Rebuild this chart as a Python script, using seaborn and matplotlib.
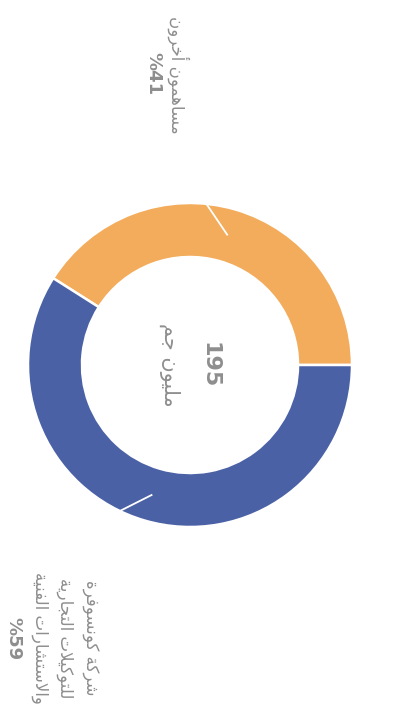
import matplotlib
matplotlib.use('Agg')
import matplotlib.pyplot as plt
import numpy as np
import seaborn as sns

# ─── Data ──────────────────────────────────────────────────────────────────────
shares = [41, 59]
segment_names = ["مساهمون أخرون", "شركة كونسوفرة\nللتوكيلات التجارية\nوالاستشارات الفنية"]
share_labels = ["%41", "%59"]
total_value = "195"
total_unit = "مليون جم"
seg_colors = ["#F2AC5B", "#4B61A6"]
text_color = "#8E8E8E"

# ─── Minimal Arabic shaping (no arabic_reshaper available) ─────────────────────
# letter: (isolated, final, initial, medial); None -> letter does not join forward
FORMS = {
    'ا': ('\uFE8D', '\uFE8E', None, None),
    'أ': ('\uFE83', '\uFE84', None, None),
    'ة': ('\uFE93', '\uFE94', None, None),
    'ر': ('\uFEAD', '\uFEAE', None, None),
    'و': ('\uFEED', '\uFEEE', None, None),
    'ت': ('\uFE95', '\uFE96', '\uFE97', '\uFE98'),
    'ج': ('\uFE9D', '\uFE9E', '\uFE9F', '\uFEA0'),
    'خ': ('\uFEA5', '\uFEA6', '\uFEA7', '\uFEA8'),
    'س': ('\uFEB1', '\uFEB2', '\uFEB3', '\uFEB4'),
    'ش': ('\uFEB5', '\uFEB6', '\uFEB7', '\uFEB8'),
    'ف': ('\uFED1', '\uFED2', '\uFED3', '\uFED4'),
    'ك': ('\uFED9', '\uFEDA', '\uFEDB', '\uFEDC'),
    'ل': ('\uFEDD', '\uFEDE', '\uFEDF', '\uFEE0'),
    'م': ('\uFEE1', '\uFEE2', '\uFEE3', '\uFEE4'),
    'ن': ('\uFEE5', '\uFEE6', '\uFEE7', '\uFEE8'),
    'ه': ('\uFEE9', '\uFEEA', '\uFEEB', '\uFEEC'),
    'ي': ('\uFEF1', '\uFEF2', '\uFEF3', '\uFEF4'),
    'لا': ('\uFEFB', '\uFEFC', None, None),
}


def shape_line(line):
    # merge lam + alef into one ligature token
    chars = []
    i = 0
    while i < len(line):
        if line[i] == 'ل' and i + 1 < len(line) and line[i + 1] == 'ا':
            chars.append('لا')
            i += 2
        else:
            chars.append(line[i])
            i += 1
    out = []
    for k, c in enumerate(chars):
        if c not in FORMS:
            out.append(c)
            continue
        prev = chars[k - 1] if k > 0 else None
        nxt = chars[k + 1] if k + 1 < len(chars) else None
        join_prev = prev in FORMS and FORMS[prev][2] is not None
        join_next = FORMS[c][2] is not None and nxt in FORMS
        iso, fin, ini, med = FORMS[c]
        if join_prev and join_next:
            out.append(med)
        elif join_prev:
            out.append(fin)
        elif join_next:
            out.append(ini)
        else:
            out.append(iso)
    return ''.join(reversed(out))


def shape(text):
    return '\n'.join(shape_line(l) for l in text.split('\n'))


# ─── Figure ────────────────────────────────────────────────────────────────────
sns.set_theme(style='white')
plt.rcParams['font.family'] = ['DejaVu Sans']

W, H = 400, 713
fig = plt.figure(figsize=(W / 100, H / 100), dpi=100)
fig.patch.set_facecolor('white')
ax = fig.add_axes([0, 0, 1, 1])

cx, cy = 190, 348
R = 162
ring = 54

wedges, _ = ax.pie(
    shares, colors=seg_colors, startangle=0, counterclock=True,
    center=(cx, cy), radius=R, frame=True,
    wedgeprops=dict(width=ring, edgecolor='white', linewidth=1.8),
)
ax.set_xlim(0, W)
ax.set_ylim(0, H)
ax.set_aspect('equal')
ax.axis('off')

# white leader stubs inside each segment
offsets = [11, -10]
for w, off in zip(wedges, offsets):
    mid = np.deg2rad((w.theta1 + w.theta2) / 2)
    end = mid + np.deg2rad(off)
    r0 = R - ring / 2
    ax.plot([cx + r0 * np.cos(mid), cx + (R + 2) * np.cos(end)],
            [cy + r0 * np.sin(mid), cy + (R + 2) * np.sin(end)],
            color='white', lw=1.3, solid_capstyle='butt', zorder=5)

# centre text
ax.text(210, cy, total_value, rotation=-90, ha='center', va='center',
        fontsize=16, fontweight='bold', color=text_color)
ax.text(170, cy, shape(total_unit), rotation=-90, ha='center', va='center',
        fontsize=15, color=text_color)

# segment labels: name lines, then percentage line
name_pos = [(178, 638), (65, 75)]
name_fs = 12
pct_pos = [(153, 639), (13, 74)]
for (nx, ny), (px, py), name, pct in zip(name_pos, pct_pos, segment_names, share_labels):
    ax.text(nx, ny, shape(name), rotation=-90, ha='center', va='center',
            multialignment='center', linespacing=1.5,
            fontsize=name_fs, color=text_color)
    ax.text(px, py, pct, rotation=-90, ha='center', va='center',
            fontsize=13, fontweight='bold', color=text_color)

fig.savefig('out.png', dpi=100, facecolor='white')
